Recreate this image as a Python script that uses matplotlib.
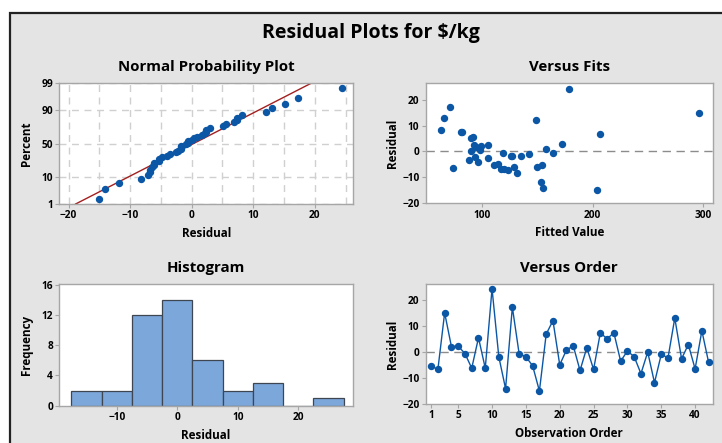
import numpy as np
import matplotlib
matplotlib.use("Agg")
import matplotlib.pyplot as plt
from matplotlib.patches import Rectangle
from statistics import NormalDist

plt.rcParams["font.family"] = ["Open Sans", "DejaVu Sans"]
plt.rcParams["font.weight"] = "bold"

# residuals in observation order
residuals = [-5.3, -6.7, 15.1, 2.1, 2.3, -0.6, -6.2, 5.5, -6.2, 24.4,
             -1.8, -14.1, 17.3, -0.6, -1.8, -5.3, -15.0, 6.9, 12.1, -4.9,
             0.8, 2.4, -7.1, 1.7, -6.7, 7.4, 5.1, 7.4, -3.5, 0.4,
             -1.8, -8.3, 0.0, -11.8, -0.9, -2.2, 13.1, -2.6, 2.9, -6.5,
             8.2, -4.0]
# fitted values matched to each observation
fitted = [111.4, 117.7, 295.8, 99.7, 92.8, 119.2, 129.1, 92.2, 149.5, 178.7,
          127.3, 155.3, 71.8, 164.3, 126.4, 154.1, 203.6, 206.9, 149.2, 114.4,
          158.3, 105.7, 123.4, 95.2, 120.4, 81.7, 90.7, 82.5, 88.6, 98.5,
          135.1, 131.5, 90.4, 153.8, 142.9, 94.3, 65.8, 105.7, 172.1, 73.9,
          63.7, 96.4]
pct_ticks = [1, 10, 50, 90, 99]
hist_bins = [-17.5, -12.5, -7.5, -2.5, 2.5, 7.5, 12.5, 17.5, 22.5, 27.5]

res = np.array(residuals)
fit = np.array(fitted)
obs = np.arange(1, len(res) + 1)

blue = "#0b57a6"
spine_col = "#a6a6a6"
bg = "#e4e4e4"
title_fs = 10.8
label_fs = 8.4

fig = plt.figure(figsize=(7.22, 4.43), dpi=100)
fig.patch.set_facecolor("white")
fig.patches.append(Rectangle((10 / 722, -0.1), 1.0, 1 - 13 / 443 + 0.1,
                             transform=fig.transFigure, facecolor=bg,
                             edgecolor="#222222", linewidth=1.6, zorder=-10))
fig.text(371 / 722, 1 - 33 / 443, "Residual Plots for \\$/kg", ha="center",
         va="center", fontsize=14, fontweight="bold")


def style(ax):
    for s in ax.spines.values():
        s.set_color(spine_col)
        s.set_linewidth(1.0)
    ax.tick_params(colors=spine_col, labelcolor="black", labelsize=7.3, length=3, width=0.8, pad=1.5)
    for lab in ax.get_xticklabels() + ax.get_yticklabels():
        lab.set_fontweight("bold")


# normal probability plot
ax1 = fig.add_axes([59.3 / 722, 1 - 204 / 443, 293.7 / 722, 120.7 / 443])
nd = NormalDist()
n = len(res)
srt = np.sort(res)
pp = (np.arange(1, n + 1) - 0.3) / (n + 0.4)
zz = np.array([nd.inv_cdf(p) for p in pp])
mu, sd = res.mean(), res.std(ddof=1)
zlim = (nd.inv_cdf(0.01), nd.inv_cdf(0.99))
zl = np.array(zlim)
ax1.plot(mu + sd * zl, zl, color="#a31f1f", lw=1.0, zorder=2)
ax1.plot(srt, zz, "o", color=blue, ms=4.3, zorder=3)
ax1.set_ylim(zlim)
ax1.set_xlim(-21.5, 26.2)
ax1.set_yticks([nd.inv_cdf(p / 100) for p in pct_ticks])
ax1.set_yticklabels([str(p) for p in pct_ticks])
ax1.set_xticks([-20, -10, 0, 10, 20])
ax1.set_xticks(np.arange(-20, 26, 5), minor=True)
ax1.tick_params(axis="x", which="minor", length=0)
ax1.grid(True, which="both", axis="x", color="#d0d0d0", ls=(0, (5, 4)), lw=1.0)
ax1.grid(True, which="major", axis="y", color="#d0d0d0", ls=(0, (5, 4)), lw=1.0)
ax1.set_axisbelow(True)
ax1.set_title("Normal Probability Plot", fontsize=title_fs, fontweight="bold", pad=9)
ax1.set_xlabel("Residual", fontsize=label_fs, fontweight="bold", labelpad=4)
ax1.set_ylabel("Percent", fontsize=label_fs, fontweight="bold", labelpad=6)
style(ax1)

# versus fits
ax2 = fig.add_axes([425.7 / 722, 1 - 203.3 / 443, 287 / 722, 120 / 443])
ax2.axhline(0, color="#8c8c8c", ls=(0, (6, 4)), lw=1.0, zorder=1)
ax2.plot(fit, res, "o", color=blue, ms=4.3, zorder=3)
ax2.set_xlim(49.5, 308.3)
ax2.set_ylim(-20.2, 26.5)
ax2.set_xticks([100, 200, 300])
ax2.set_yticks([-20, -10, 0, 10, 20])
ax2.set_title("Versus Fits", fontsize=title_fs, fontweight="bold", pad=9)
ax2.set_xlabel("Fitted Value", fontsize=label_fs, fontweight="bold", labelpad=4)
ax2.set_ylabel("Residual", fontsize=label_fs, fontweight="bold", labelpad=2)
style(ax2)

# histogram
ax3 = fig.add_axes([59.3 / 722, 1 - 405.7 / 443, 293.4 / 722, 121.4 / 443])
ax3.hist(res, bins=hist_bins, color="#7ba7da", edgecolor="#3d4651", linewidth=0.9)
ax3.set_xlim(-19.5, 29.0)
ax3.set_ylim(0, 16.05)
ax3.set_xticks([-10, 0, 10, 20])
ax3.set_yticks([0, 4, 8, 12, 16])
ax3.set_title("Histogram", fontsize=title_fs, fontweight="bold", pad=9)
ax3.set_xlabel("Residual", fontsize=label_fs, fontweight="bold", labelpad=4)
ax3.set_ylabel("Frequency", fontsize=label_fs, fontweight="bold", labelpad=6)
style(ax3)

# versus order
ax4 = fig.add_axes([425.7 / 722, 1 - 404 / 443, 287 / 722, 120 / 443])
ax4.axhline(0, color="#8c8c8c", ls=(0, (6, 4)), lw=1.0, zorder=1)
ax4.plot(obs, res, "-o", color=blue, ms=4.3, lw=1.0, zorder=3)
ax4.set_xlim(0.2, 42.6)
ax4.set_ylim(-20, 26.2)
ax4.set_xticks([1, 5, 10, 15, 20, 25, 30, 35, 40])
ax4.set_yticks([-20, -10, 0, 10, 20])
ax4.set_title("Versus Order", fontsize=title_fs, fontweight="bold", pad=9)
ax4.set_xlabel("Observation Order", fontsize=label_fs, fontweight="bold", labelpad=4)
ax4.set_ylabel("Residual", fontsize=label_fs, fontweight="bold", labelpad=2)
style(ax4)

fig.savefig("out.png", dpi=100, facecolor=fig.get_facecolor())
